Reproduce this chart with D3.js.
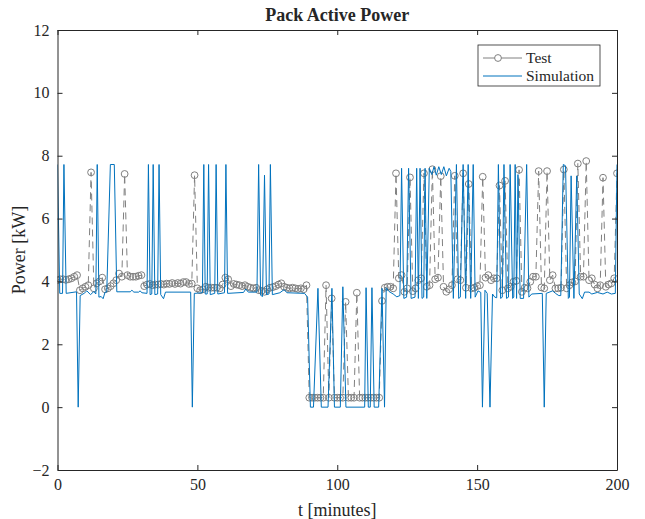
<!DOCTYPE html>
<html>
<head>
<meta charset="utf-8">
<script src="https://cdn.jsdelivr.net/npm/d3@7"></script>
<style>
  body { margin: 0; background: #fff; }
  svg text { font-family: 'Liberation Serif', 'Times New Roman', serif; fill: #262626; }
</style>
</head>
<body>
<div class="chart"></div>
<script>
// test: one sample per minute, t = 0..200
const testPower = [
  4.04, 4.07, 4.07, 4.05, 4.07, 4.10, 4.15, 4.20, 3.72, 3.78,
  3.83, 3.88, 7.47, 3.78, 3.94, 4.00, 4.12, 3.75, 3.78, 3.85,
  3.94, 4.04, 4.25, 4.15, 7.42, 4.20, 4.15, 4.15, 4.15, 4.18,
  4.20, 3.85, 3.90, 3.92, 3.88, 3.90, 3.90, 3.92, 3.90, 3.93,
  3.92, 3.95, 3.92, 3.95, 3.93, 3.98, 3.98, 3.92, 3.93, 7.38,
  3.78, 3.72, 3.75, 3.83, 3.80, 3.80, 3.80, 3.80, 3.78, 3.90,
  4.12, 4.07, 3.85, 3.92, 3.90, 3.88, 3.85, 3.88, 3.83, 3.80,
  3.78, 3.80, 3.72, 3.70, 3.67, 3.75, 3.80, 3.82, 3.85, 3.90,
  3.94, 3.83, 3.80, 3.78, 3.80, 3.78, 3.76, 3.78, 3.75, 3.88,
  0.30, 0.30, 0.30, 0.30, 0.30, 0.30, 3.88, 0.30, 3.46, 0.30,
  0.30, 0.30, 0.30, 3.35, 0.30, 0.30, 0.30, 3.64, 0.30, 0.30,
  0.30, 0.30, 0.30, 0.30, 0.30, 0.30, 3.38, 3.80, 3.83, 3.83,
  3.78, 7.44, 4.10, 4.20, 3.67, 3.78, 7.31, 3.69, 3.78, 4.04,
  4.10, 7.44, 3.83, 3.88, 7.57, 4.07, 4.12, 7.35, 3.83, 3.67,
  3.75, 3.88, 7.36, 4.07, 4.04, 7.44, 3.80, 7.10, 3.78, 3.80,
  3.85, 3.88, 7.33, 4.12, 4.20, 4.04, 4.10, 4.10, 7.05, 3.72,
  7.20, 3.78, 3.83, 3.99, 4.02, 7.55, 3.67, 3.80, 3.78, 3.99,
  4.15, 4.15, 7.51, 3.81, 3.78, 7.51, 4.04, 4.20, 3.78, 3.78,
  3.80, 7.56, 3.78, 3.88, 3.97, 4.00, 7.75, 4.15, 4.15, 7.83,
  4.04, 4.10, 3.90, 3.78, 3.88, 7.30, 3.83, 3.90, 3.94, 4.10,
  7.44
];
const testTime = testPower.map((d, i) => i);

// simulation: polyline vertices
const simTime = [
  0, 0.8, 1.8, 2.3, 3.1, 6.8, 7.4, 8.1, 9.5, 10.5, 11.8, 13.0, 13.7, 14.2, 14.8,
  15.6, 16.3, 17.0, 17.6, 18.9, 20.3, 21.2, 26.0, 26.6, 27.3, 29.0, 29.5, 30.2,
  32.0, 32.5, 33.1, 33.7, 34.2, 34.8, 35.8, 36.3, 36.9, 37.9, 38.6, 47.6, 48.2,
  48.9, 51.8, 52.3, 52.8, 53.5, 54.0, 54.6, 56.2, 56.7, 57.3, 59.7, 60.2, 60.8,
  66.5, 67.3, 68.2, 71.3, 71.9, 72.6, 73.3, 74.0, 74.7, 75.6, 76.1, 76.8, 79.5,
  81.0, 82.0, 88.3, 89.4, 90.4, 91.5, 93.1, 94.3, 96.7, 98.1, 99.0, 101.1, 102.0,
  103.1, 109.8, 110.3, 111.1, 111.8, 112.4, 113.2, 114.8, 116.0, 116.9, 117.5,
  118.5, 120.0, 121.3, 122.4, 123.0, 123.8, 124.8, 125.5, 126.4, 127.8, 128.4,
  129.0, 129.6, 130.3, 130.9, 131.4, 132.0, 132.9, 133.8, 134.6, 135.4, 136.3,
  137.2, 138.1, 139.0, 140.0, 140.6, 141.5, 142.6, 143.4, 144.0, 145.0, 145.9,
  146.8, 147.7, 148.6, 149.3, 150.3, 151.3, 151.9, 152.8, 153.6, 154.6, 155.5,
  156.3, 157.0, 157.6, 158.4, 159.0, 159.6, 160.5, 161.2, 161.8, 162.7, 163.1,
  163.6, 164.1, 164.6, 165.4, 166.6, 167.7, 168.5, 169.5, 173.3, 174.0, 174.7,
  177.0, 178.0, 179.2, 179.9, 180.8, 181.6, 182.6, 183.0, 183.6, 184.6, 185.6,
  186.5, 187.6, 188.4, 190.0, 191.0, 193.0, 195.0, 196.5, 198.0, 199.4, 200
];
const simPower = [
  7.72, 3.62, 3.62, 7.72, 3.62, 3.67, 0, 3.55, 3.62, 3.70, 3.58, 3.68, 3.60, 7.72, 3.50,
  3.52, 3.45, 3.66, 3.66, 7.72, 7.72, 3.67, 3.67, 3.72, 3.66, 3.66, 3.70, 3.64,
  3.62, 7.72, 3.58, 3.60, 7.72, 3.58, 3.60, 7.72, 3.58, 3.45, 3.66, 3.66, 0,
  3.62, 3.64, 7.72, 3.60, 3.60, 7.72, 3.58, 3.62, 7.72, 3.60, 3.64, 7.72, 3.62,
  3.65, 3.76, 3.66, 3.66, 7.72, 3.56, 3.52, 7.38, 3.58, 3.60, 7.72, 3.58, 3.64,
  3.74, 3.64, 3.62, 3.50, 0, 0, 3.78, 0, 0, 3.78, 0, 0, 3.83,
  0, 0, 3.80, 0, 0, 3.80, 0, 0, 3.78, 0, 3.80,
  3.68, 3.60, 3.51, 3.55, 7.60, 3.46, 3.50, 7.60, 3.46, 3.50, 7.60,
  3.46, 7.60, 3.46, 3.50, 7.60, 3.46, 7.60, 7.40, 7.65, 7.38, 7.65,
  7.40, 7.65, 7.36, 7.60, 7.50, 3.46, 7.72, 3.46, 3.50, 7.72, 3.46,
  7.72, 3.46, 7.72, 3.50, 3.70, 3.65, 0, 3.72, 3.62, 0, 3.60,
  3.50, 3.48, 7.72, 3.46, 3.50, 7.72, 3.46, 3.50, 7.72, 3.46, 3.50,
  7.72, 3.46, 7.40, 3.46, 3.46, 7.72, 3.50, 3.60, 3.62, 0, 3.62,
  3.70, 3.62, 3.55, 3.55, 7.72, 7.68, 3.46, 3.50, 7.36, 3.46, 7.36,
  3.60, 3.45, 3.66, 3.66, 3.60, 3.65, 3.60, 3.66, 3.60, 3.62, 7.72
];

const xTicks = [0, 50, 100, 150, 200];
const yTicks = [-2, 0, 2, 4, 6, 8, 10, 12];

const width = 645;
const height = 519;
const margin = { top: 30, right: 28, bottom: 49, left: 57.5 };
const chart_width = width - margin.left - margin.right;
const chart_height = height - margin.top - margin.bottom;

const axisColor = '#262626';
const testColor = '#808080';
const simColor = '#0072bd';

const svg = d3
  .select('.chart')
  .append('svg')
  .attr('width', width)
  .attr('height', height);

const x = d3.scaleLinear().domain([0, 200]).range([0, chart_width]);
const y = d3.scaleLinear().domain([-2, 12]).range([chart_height, 0]);

const plot = svg
  .append('g')
  .attr('transform', 'translate(' + margin.left + ',' + margin.top + ')');

svg
  .append('defs')
  .append('clipPath')
  .attr('id', 'clip')
  .append('rect')
  .attr('width', chart_width)
  .attr('height', chart_height);

const lines = plot.append('g').attr('clip-path', 'url(#clip)');

const testData = testTime.map((t, i) => ({ t: t, v: testPower[i] }));
const simData = simTime.map((t, i) => ({ t: t, v: simPower[i] }));

const line = d3
  .line()
  .x(d => x(d.t))
  .y(d => y(d.v));

lines
  .append('path')
  .datum(testData)
  .attr('d', line)
  .attr('fill', 'none')
  .attr('stroke', testColor)
  .attr('stroke-width', 1)
  .attr('stroke-dasharray', '7,5');

lines
  .selectAll('.marker')
  .data(testData)
  .enter()
  .append('circle')
  .attr('class', 'marker')
  .attr('cx', d => x(d.t))
  .attr('cy', d => y(d.v))
  .attr('r', 3.4)
  .attr('fill', 'none')
  .attr('stroke', testColor)
  .attr('stroke-width', 1);

lines
  .append('path')
  .datum(simData)
  .attr('d', line)
  .attr('fill', 'none')
  .attr('stroke', simColor)
  .attr('stroke-width', 1);

// axes with inward ticks, box on all four sides
function styleAxis(g) {
  g.select('.domain').attr('stroke', axisColor);
  g.selectAll('.tick line').attr('stroke', axisColor);
  g.selectAll('.tick text')
    .attr('fill', axisColor)
    .style('font-size', '16px');
}

plot
  .append('g')
  .attr('transform', 'translate(0,' + chart_height + ')')
  .call(d3.axisBottom(x).tickValues(xTicks).tickSizeInner(-5).tickSizeOuter(0).tickPadding(9))
  .call(styleAxis)
  .attr('font-family', null);

plot
  .append('g')
  .call(d3.axisLeft(y).tickValues(yTicks).tickSizeInner(-5).tickSizeOuter(0).tickPadding(8))
  .call(styleAxis)
  .attr('font-family', null);

plot
  .append('g')
  .call(d3.axisTop(x).tickValues(xTicks).tickSizeInner(-5).tickSizeOuter(0).tickFormat(''))
  .call(styleAxis);

plot
  .append('g')
  .attr('transform', 'translate(' + chart_width + ',0)')
  .call(d3.axisRight(y).tickValues(yTicks).tickSizeInner(-5).tickSizeOuter(0).tickFormat(''))
  .call(styleAxis);

// title and axis labels
svg
  .append('text')
  .attr('x', margin.left + chart_width / 2)
  .attr('y', 21)
  .attr('text-anchor', 'middle')
  .style('font-size', '18px')
  .style('font-weight', 'bold')
  .text('Pack Active Power');

svg
  .append('text')
  .attr('x', margin.left + chart_width / 2)
  .attr('y', 516)
  .attr('text-anchor', 'middle')
  .style('font-size', '18px')
  .text('t [minutes]');

svg
  .append('text')
  .attr('transform', 'translate(25,' + (margin.top + chart_height / 2) + ') rotate(-90)')
  .attr('text-anchor', 'middle')
  .style('font-size', '18px')
  .text('Power [kW]');

// legend
const legend = svg.append('g').attr('transform', 'translate(478,45)');

legend
  .append('rect')
  .attr('width', 122)
  .attr('height', 41)
  .attr('fill', '#fff')
  .attr('stroke', axisColor)
  .attr('stroke-width', 0.8);

const legendItems = [
  { name: 'Test', color: testColor, marker: true },
  { name: 'Simulation', color: simColor, marker: false }
];

const item = legend
  .selectAll('.item')
  .data(legendItems)
  .enter()
  .append('g')
  .attr('class', 'item')
  .attr('transform', (d, i) => 'translate(0,' + (13 + i * 18) + ')');

item
  .append('line')
  .attr('x1', 5)
  .attr('x2', 44)
  .attr('stroke', d => d.color)
  .attr('stroke-width', 1);

item
  .filter(d => d.marker)
  .append('circle')
  .attr('cx', 20)
  .attr('r', 3.4)
  .attr('fill', '#fff')
  .attr('stroke', d => d.color);

item
  .append('text')
  .attr('x', 48)
  .attr('dy', '0.33em')
  .style('font-size', '15.5px')
  .text(d => d.name);
</script>
</body>
</html>
